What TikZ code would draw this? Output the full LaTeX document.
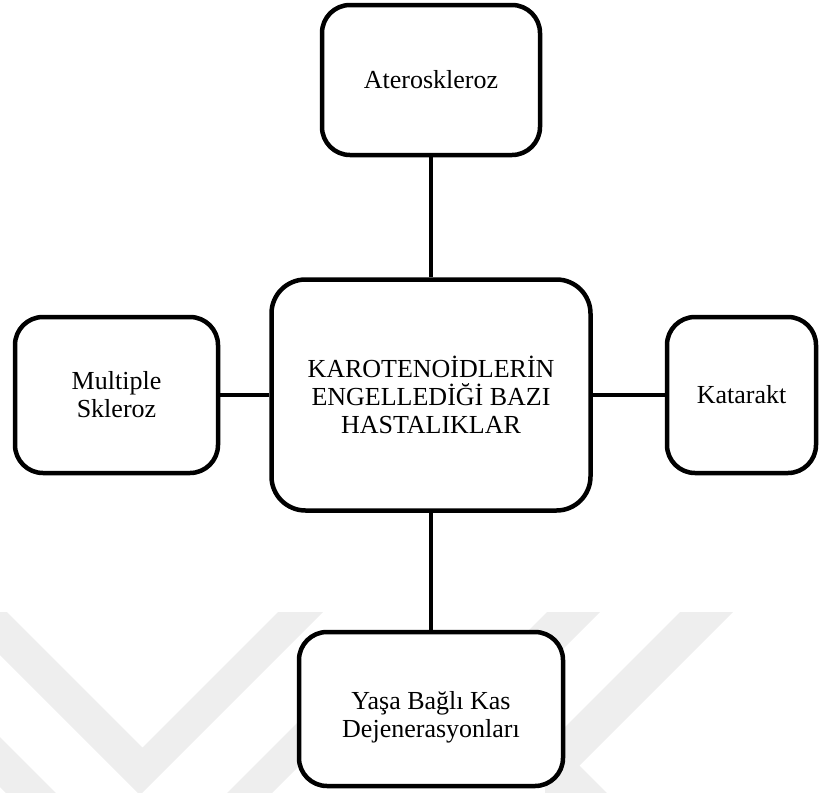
\documentclass[tikz,border=0pt]{standalone}
\usepackage{fontspec}
\setmainfont{Liberation Serif}
\definecolor{wmgray}{RGB}{238,238,238}
\begin{document}
\begin{tikzpicture}[x=1pt,y=-1pt,
  txt/.style={align=center, inner sep=0pt, font=\fontsize{26}{28}\selectfont},
  box/.style={txt, draw=black, line width=4.5pt, fill=white, rounded corners=28pt},
  link/.style={draw=black, line width=4pt},
  wm/.style={fill=wmgray, draw=none}]
\useasboundingbox (0,0) rectangle (820,793);

% faint background emblem in the lower part
\begin{scope}
  \clip (0,0) rectangle (820,793);
  \fill[wm] (0,612) -- (7,612) -- (142.5,747.5) -- (278,612) -- (323,612)
            -- (140,795) -- (0,655) -- cycle;
  \fill[wm] (0,737) -- (56,793) -- (6,793) -- (0,787) -- cycle;
  \fill[wm] (227,793) -- (300,720) -- (345,720) -- (272,793) -- cycle;
  \fill[wm] (547,612) -- (600,612) -- (560,652) -- (507,652) -- cycle;
  \fill[wm] (680,612) -- (733,612) -- (579.5,765.5) -- (607,793)
            -- (545,793) -- (545,747) -- (565,727) -- cycle;
\end{scope}

% central node and the four diseases
\node[box, rounded corners=34pt, minimum width=319pt, minimum height=231pt]
  (hub) at (431,395) {KAROTENOİDLERİN\\ENGELLEDİĞİ BAZI\\HASTALIKLAR};
\node[box, minimum width=218pt, minimum height=150pt]
  (athero) at (431,80) {Ateroskleroz};
\node[box, minimum width=203pt, minimum height=156pt]
  (ms) at (116.5,395) {Multiple\\Skleroz};
\node[box, minimum width=149pt, minimum height=156pt]
  (cat) at (741.5,395) {Katarakt};
\node[box, minimum width=264pt, minimum height=154pt]
  (amd) at (431,709) {};
\node[txt] (amdtext) at (431,717) {Yaşa Bağlı Kas\\Dejenerasyonları};

% connectors
\draw[link] (hub.north) -- (athero.south);
\draw[link] (hub.south) -- (amd.north);
\draw[link] (hub.west) -- (ms.east);
\draw[link] (hub.east) -- (cat.west);
\end{tikzpicture}
\end{document}
